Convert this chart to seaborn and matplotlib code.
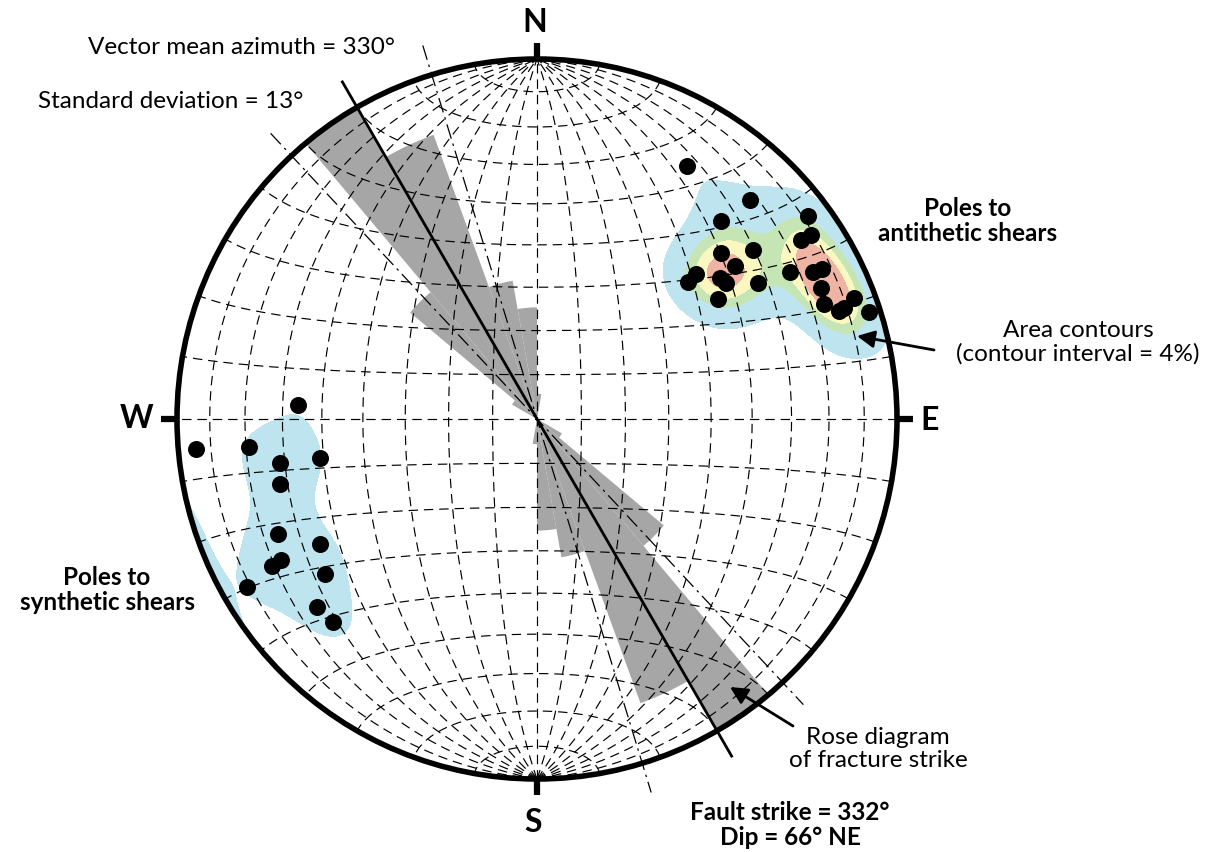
import numpy as np
import pandas as pd
import matplotlib
matplotlib.use("Agg")
import matplotlib.pyplot as plt
import seaborn as sns
from matplotlib.patches import Circle, Wedge

# ---------------- data ----------------
# poles to antithetic shears (trend, plunge in degrees, lower hemisphere)
ANTI_TREND = [30.7, 44.2, 42.9, 53.2, 55.8, 56.1, 47.9, 51.9, 52.3, 47.6, 47.8, 52.3,
              54.2, 56.4, 58.3, 59.8, 62.0, 62.2, 65.2, 68.1, 70.3, 70.2, 69.2, 72.1]
ANTI_PLUNGE = [19.5, 16.3, 25.9, 6.5, 12.5, 9.3, 31.7, 24.8, 31.1, 39.9, 42.7, 36.0,
               35.5, 39.5, 28.7, 19.9, 14.1, 11.4, 14.3, 15.1, 11.8, 10.2, 6.4, 3.4]
# poles to synthetic shears
SYN_TREND = [273.3, 265.0, 264.5, 260.3, 259.9, 255.7, 246.0, 240.0, 241.1, 240.9,
             233.8, 239.9, 229.5, 225.1]
SYN_PLUNGE = [34.0, 5.5, 20.6, 28.5, 38.7, 27.3, 22.2, 31.1, 20.0, 17.0,
              27.9, 7.6, 20.8, 21.2]

# rose diagram of fracture strike (10 degree bins, bidirectional), petal length / radius
ROSE_BIN_START = [0, 10, 20, 30, 40, 50, 60, 70, 80, 90, 100, 110, 120, 130, 140, 150, 160, 170]
ROSE_LENGTH = [0.07, 0, 0, 0, 0, 0, 0, 0, 0, 0, 0, 0, 0.08, 0.46, 1.0, 0.84, 0.39, 0.31]

VECTOR_MEAN = 330
STD_DEV = 13
FAULT_STRIKE = 332
FAULT_DIP = 66
# area-density contour bands (percent per 1% area)
CONTOUR_LEVELS = [3.5, 8.0, 10.0, 11.9]
CONTOUR_COLORS = ["#bde4ef", "#c5e5b5", "#fbf7c0", "#efb4a4"]
CARDINALS = ["N", "E", "S", "W"]

# ---------------- layout ----------------
W, H = 1213, 852
CX, CY, R = 537, 419, 360

sns.set_theme(style="white")
plt.rcParams["font.family"] = ["Lato", "DejaVu Sans"]
plt.rcParams["text.color"] = "black"

fig = plt.figure(figsize=(W / 100, H / 100), dpi=100)
ax = fig.add_axes([0, 0, 1, 1])


def P(xp, yp):
    return (xp - CX) / R, (CY - yp) / R


def proj(e, n, d):
    s = np.sqrt(1 + d)
    return e / s, n / s


def vec(trend, plunge):
    t = np.radians(trend)
    p = np.radians(plunge)
    return np.cos(p) * np.sin(t), np.cos(p) * np.cos(t), np.sin(p)


# ---------------- density contours ----------------
tr_all = np.array(ANTI_TREND + SYN_TREND)
pl_all = np.array(ANTI_PLUNGE + SYN_PLUNGE)
pe, pn, pd_ = vec(tr_all, pl_all)
g = np.linspace(-1.02, 1.02, 340)
GX, GY = np.meshgrid(g, g)
rr = np.minimum(np.sqrt(GX ** 2 + GY ** 2), 1.0)
th = 2 * np.arcsin(rr / np.sqrt(2))
az = np.arctan2(GX, GY)
ge = np.sin(th) * np.sin(az)
gn = np.sin(th) * np.cos(az)
gd = np.cos(th)
dot = np.abs(ge[..., None] * pe + gn[..., None] * pn + gd[..., None] * pd_)
k = 80.0
dens = k * np.exp(k * (dot - 1)).sum(axis=-1) / len(tr_all)

clip = Circle((0, 0), 1.0, transform=ax.transData, facecolor="none", edgecolor="none")
ax.add_patch(clip)
cs = ax.contourf(GX, GY, dens, levels=CONTOUR_LEVELS + [1e6], colors=CONTOUR_COLORS, zorder=1)
cs.set_clip_path(clip)

# ---------------- rose diagram ----------------
for b, L in zip(ROSE_BIN_START, ROSE_LENGTH):
    if L <= 0:
        continue
    for off in (0, 180):
        a1, a2 = b + off, b + off + 10
        ax.add_patch(Wedge((0, 0), L, 90 - a2, 90 - a1, facecolor="#a6a6a6",
                           edgecolor="none", zorder=1.5))

# ---------------- Schmidt net ----------------
grid_kw = dict(color="black", lw=0.85, ls=(0, (8, 5)), zorder=2)
t = np.radians(np.linspace(-90, 90, 361))
for dip in range(10, 90, 10):
    dr = np.radians(dip)
    for sgn in (1, -1):
        x, y = proj(sgn * np.cos(t) * np.cos(dr), np.sin(t), np.cos(t) * np.sin(dr))
        ax.plot(x, y, **grid_kw)
ax.plot([0, 0], [-1, 1], **grid_kw)
phi = np.radians(np.linspace(0, 180, 361))
for alpha in range(10, 180, 10):
    a = np.radians(alpha)
    x, y = proj(np.sin(a) * np.cos(phi), np.full_like(phi, np.cos(a)), np.sin(a) * np.sin(phi))
    ax.plot(x, y, **grid_kw)

# ---------------- mean / std lines ----------------
ext = 1.085
for azm, style, lw in [(VECTOR_MEAN, "-", 2.0),
                       (VECTOR_MEAN - STD_DEV, (0, (12, 4, 2, 4)), 0.9),
                       (VECTOR_MEAN + STD_DEV, (0, (12, 4, 2, 4)), 0.9)]:
    a = np.radians(azm)
    ax.plot([ext * np.sin(a), -ext * np.sin(a)], [ext * np.cos(a), -ext * np.cos(a)],
            color="black", lw=lw, ls=style, zorder=3, solid_capstyle="butt")

# ---------------- poles ----------------
ax_, ay_ = proj(*vec(np.array(ANTI_TREND), np.array(ANTI_PLUNGE)))
sx_, sy_ = proj(*vec(np.array(SYN_TREND), np.array(SYN_PLUNGE)))
df = pd.DataFrame({"x": np.concatenate([ax_, sx_]), "y": np.concatenate([ay_, sy_]),
                   "set": ["antithetic"] * len(ax_) + ["synthetic"] * len(sx_)})
sns.scatterplot(data=df, x="x", y="y", color="black", s=150, linewidth=0, ax=ax,
                zorder=4, legend=False)

# ---------------- primitive and ticks ----------------
ax.add_patch(Circle((0, 0), 1.0, facecolor="none", edgecolor="black", lw=4.0, zorder=5))
for i, lab in enumerate(CARDINALS):
    a = np.radians(i * 90)
    ax.plot([np.sin(a), 1.045 * np.sin(a)], [np.cos(a), 1.045 * np.cos(a)],
            color="black", lw=4.5, solid_capstyle="butt", zorder=5)

card_pos = {"N": (535, 22), "E": (930, 420), "S": (533, 822), "W": (137, 418)}
for lab in CARDINALS:
    ax.text(*P(*card_pos[lab]), lab, fontsize=23, fontweight="bold", ha="center", va="center")

# ---------------- annotations ----------------
fs = 17.5
ax.text(*P(88, 47), f"Vector mean azimuth = {VECTOR_MEAN}°", fontsize=fs, ha="left", va="center")
ax.text(*P(38, 102), f"Standard deviation = {STD_DEV}°", fontsize=fs, ha="left", va="center")
ax.text(*P(968, 221), "Poles to\nantithetic shears", fontsize=fs, fontweight="bold",
        ha="center", va="center", linespacing=1.1)
ax.text(*P(107, 590), "Poles to\nsynthetic shears", fontsize=fs, fontweight="bold",
        ha="center", va="center", linespacing=1.1)
ax.text(*P(1078, 342), "Area contours\n(contour interval = 4%)", fontsize=fs,
        ha="center", va="center", linespacing=1.1)
ax.text(*P(878, 749), "Rose diagram\nof fracture strike", fontsize=fs,
        ha="center", va="center", linespacing=1.1)
ax.text(*P(790, 825), f"Fault strike = {FAULT_STRIKE}°\nDip = {FAULT_DIP}° NE", fontsize=fs,
        fontweight="bold", ha="center", va="center", linespacing=1.1)

arrow_kw = dict(arrowstyle="-|>", color="black", lw=2.0, mutation_scale=26,
                shrinkA=0, shrinkB=0)
ax.annotate("", xy=P(857, 336), xytext=P(934, 350), arrowprops=arrow_kw, zorder=6)
ax.annotate("", xy=P(730, 687), xytext=P(793, 726), arrowprops=arrow_kw, zorder=6)

ax.set_xlim(-CX / R, (W - CX) / R)
ax.set_ylim(-(H - CY) / R, CY / R)
ax.axis("off")

fig.savefig("out.png", dpi=100, facecolor="white")
